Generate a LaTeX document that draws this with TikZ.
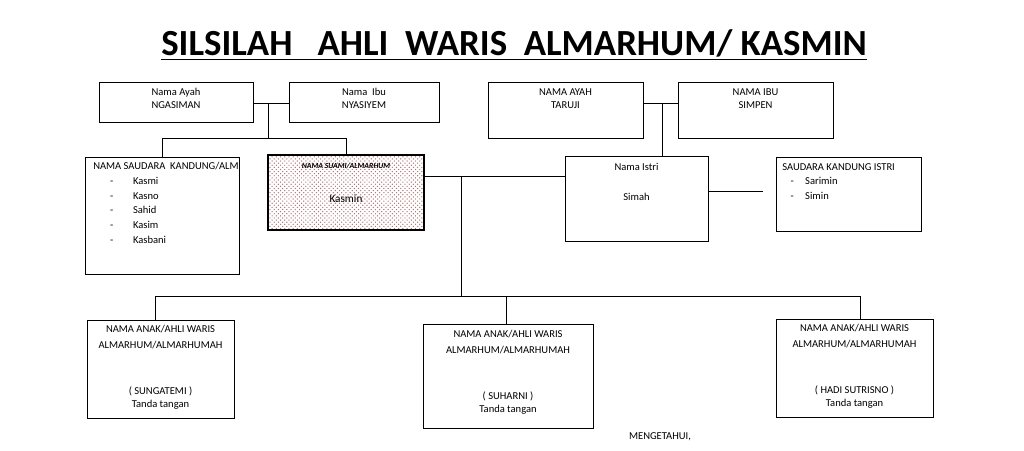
\documentclass[tikz,border=0pt]{standalone}
\usepackage{fontspec}
\setmainfont{Carlito}
\usetikzlibrary{positioning,patterns}
\begin{document}
\begin{tikzpicture}[%
        x=0.025cm, y=-0.025cm,
        every node/.style={inner sep=0pt, font=\fontsize{7.5}{9.5}\selectfont},
        box/.style={draw, rectangle, line width=0.6pt},
        txt/.style={align=center, anchor=north},
        lst/.style={align=left, anchor=north west},
        line/.style={draw, line width=0.6pt}
      ]
      \useasboundingbox (0,0) rectangle (1024,450);
      \node (title) at (514,45) {\fontsize{26.2}{30}\selectfont\bfseries\underline{SILSILAH\ \ \ AHLI\ \ WARIS\ \ ALMARHUM/ KASMIN}};
      % orang tua suami
      \node [box, minimum width=3.85cm, minimum height=1.0cm] (ayah1) at (176,102) {};
      \node [txt] (ayah1t) at (176,88) {Nama Ayah\\NGASIMAN};
      \node [box, minimum width=3.75cm, minimum height=1.0cm] (ibu1) at (364,102) {};
      \node [txt] (ibu1t) at (364,88) {Nama\ \ Ibu\\NYASIYEM};
      % orang tua istri
      \node [box, minimum width=3.875cm, minimum height=1.4cm] (ayah2) at (565.5,110) {};
      \node [txt] (ayah2t) at (565.5,88) {NAMA AYAH\\TARUJI};
      \node [box, minimum width=3.875cm, minimum height=1.4cm] (ibu2) at (755.5,110) {};
      \node [txt] (ibu2t) at (755.5,88) {NAMA IBU\\SIMPEN};
      % generasi almarhum
      \node [box, minimum width=3.85cm, minimum height=2.925cm] (saudara) at (162,215.5) {};
      \node [lst] (saudarat) at (93,162) {NAMA SAUDARA\ \ KANDUNG/ALM\\[1pt]
        \hspace{12pt}-\hspace{14pt}Kasmi\\[1pt]\hspace{12pt}-\hspace{14pt}Kasno\\[1pt]
        \hspace{12pt}-\hspace{14pt}Sahid\\[1pt]\hspace{12pt}-\hspace{14pt}Kasim\\[1pt]
        \hspace{12pt}-\hspace{14pt}Kasbani};
      \node [box, line width=1.8pt, fill=white, pattern=crosshatch dots, pattern color=red!40!black!55,
             minimum width=3.9cm, minimum height=1.875cm] (suami) at (346,192.5) {};
      \node [txt] (suamit) at (346,163) {\fontsize{5.5}{7}\selectfont\bfseries\itshape NAMA SUAMI/ALMARHUM};
      \node [txt] (suamin) at (346,194) {\fontsize{8}{9}\selectfont Kasmin};
      \node [box, minimum width=3.575cm, minimum height=2.125cm] (istri) at (636.5,198.5) {};
      \node [txt] (istrit) at (636.5,163) {Nama Istri\\[12pt]Simah};
      \node [box, minimum width=3.625cm, minimum height=1.85cm] (sdristri) at (848.5,194) {};
      \node [lst] (sdristrit) at (782,163) {SAUDARA KANDUNG ISTRI\\[1pt]
        \hspace{6pt}-\hspace{8pt}Sarimin\\[1pt]\hspace{6pt}-\hspace{8pt}Simin};
      % anak
      \node [box, minimum width=3.675cm, minimum height=2.45cm] (anak1) at (160.5,369) {};
      \node [txt] (anak1t) at (160.5,325) {NAMA ANAK/AHLI WARIS\\[2pt]ALMARHUM/ALMARHUMAH\\[23pt]( SUNGATEMI )\\Tanda tangan};
      \node [box, minimum width=4.25cm, minimum height=2.6cm] (anak2) at (508,376) {};
      \node [txt] (anak2t) at (508,330) {NAMA ANAK/AHLI WARIS\\[2pt]ALMARHUM/ALMARHUMAH\\[23pt]( SUHARNI )\\Tanda tangan};
      \node [box, minimum width=3.925cm, minimum height=2.45cm] (anak3) at (854.5,368) {};
      \node [txt] (anak3t) at (854.5,324) {NAMA ANAK/AHLI WARIS\\[2pt]ALMARHUM/ALMARHUMAH\\[23pt]( HADI SUTRISNO )\\Tanda tangan};
      \node (tahu) at (660,437) {MENGETAHUI,};
      % garis
      \coordinate (p1) at (268,103);
      \coordinate (s1) at (268,138);
      \coordinate (p2) at (662,103);
      \coordinate (m1) at (461,176);
      \coordinate (m2) at (461,296);
      \coordinate (k1) at (155,296);
      \coordinate (k2) at (506,296);
      \coordinate (k3) at (860,296);
      \coordinate (e1) at (763,191);
      \path [line] (ayah1.east |- p1) -- (ibu1.west |- p1)
        (p1) -- (s1)
        (s1 -| saudara) -- (s1 -| suami)
        (s1 -| saudara) -- (saudara.north)
        (s1 -| suami) -- (suami.north)
        (ayah2.east |- p2) -- (ibu2.west |- p2)
        (p2) -- (p2 |- istri.north)
        (suami.east |- m1) -- (istri.west |- m1)
        (m1) -- (m2)
        (k1) -- (k3)
        (k1) -- (k1 |- anak1.north)
        (k2) -- (k2 |- anak2.north)
        (k3) -- (k3 |- anak3.north)
        (istri.east |- e1) -- (e1);
    \end{tikzpicture}
\end{document}
